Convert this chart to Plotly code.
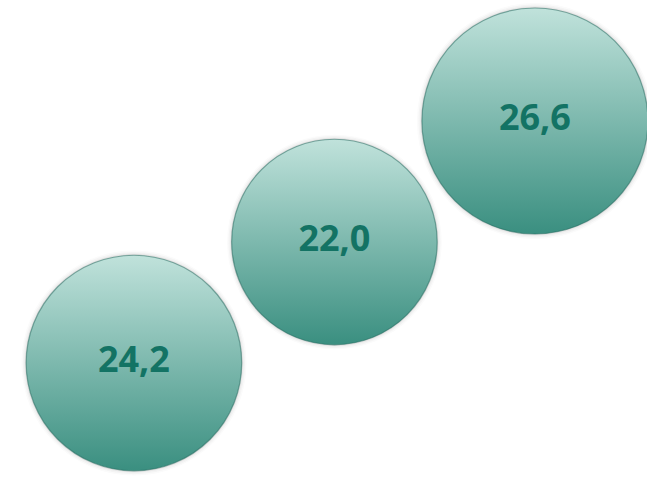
import plotly.graph_objects as go

# Data
values = [24.2, 22.0, 26.6]
labels = [f"{v:.1f}".replace(".", ",") for v in values]
steps = [0, 1, 2]  # staircase order of the bubbles

max_diam = 226
sizeref = 2.0 * max(values) / (max_diam ** 2)

fig = go.Figure()

# soft halo / shadow rings
for extra, op in [(10, 0.03), (7, 0.05), (4, 0.07), (2, 0.10)]:
    ref = 2.0 * max(values) / ((max_diam + extra) ** 2)
    fig.add_trace(go.Scatter(
        x=steps, y=steps, mode="markers",
        marker=dict(size=values, sizemode="area", sizeref=ref,
                    color=f"rgba(60,60,60,{op})", line=dict(width=0)),
        hoverinfo="skip", showlegend=False,
    ))

# main bubbles
fig.add_trace(go.Scatter(
    x=steps, y=steps, mode="markers+text",
    text=labels, textposition="middle center",
    textfont=dict(family="Open Sans", size=36, color="#137364", weight=700),
    marker=dict(size=values, sizemode="area", sizeref=sizeref,
                color="#c0e2db",
                gradient=dict(type="vertical", color="#3a8f80"),
                line=dict(width=1.2, color="rgba(40,110,98,0.55)"),
                opacity=1),
    hoverinfo="skip", showlegend=False,
))

fig.update_layout(
    width=647, height=477,
    margin=dict(l=0, r=0, t=0, b=0),
    paper_bgcolor="white", plot_bgcolor="white",
    xaxis=dict(range=[-0.668, 2.559], visible=False, fixedrange=True),
    yaxis=dict(range=[-0.942, 3.0], visible=False, fixedrange=True),
)

fig.write_html("out.html")
